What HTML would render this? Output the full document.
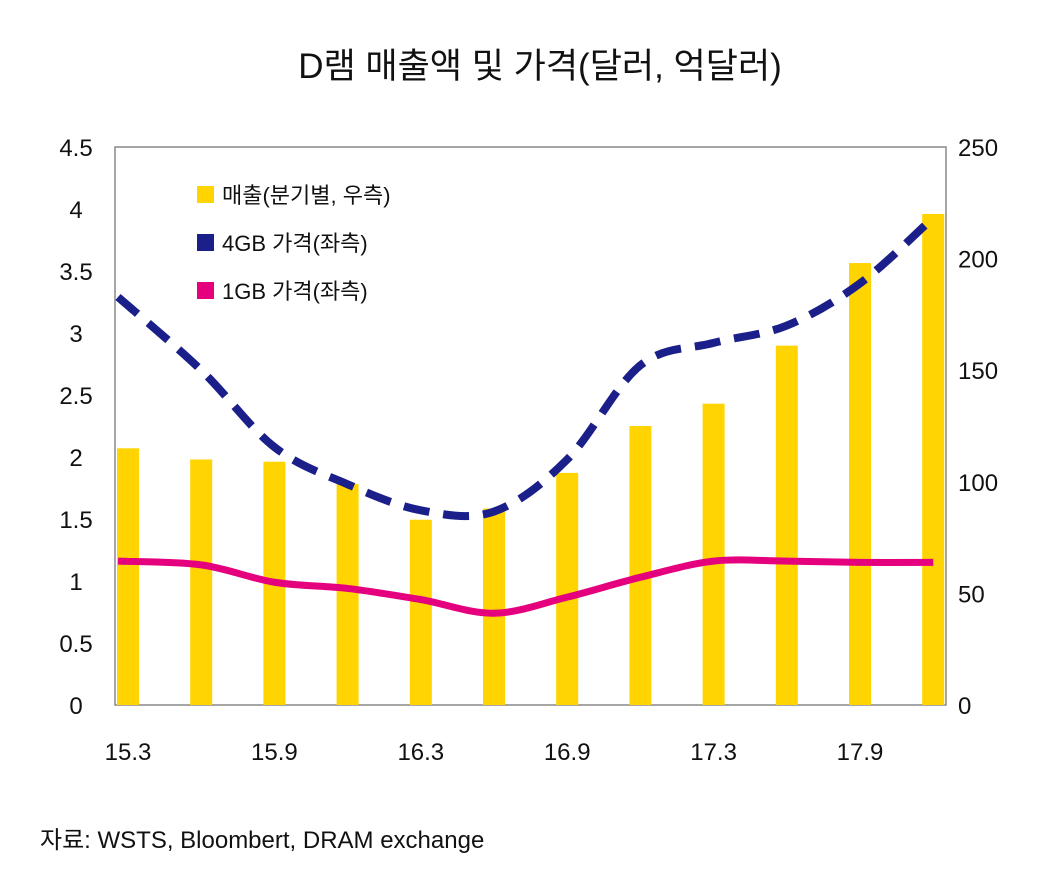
<!DOCTYPE html>
<html><head><meta charset="utf-8">
<style>
body{margin:0;background:#fff;width:1053px;height:891px;overflow:hidden;font-family:"Liberation Sans","Noto Sans CJK KR",sans-serif;}
svg text{font-family:"Liberation Sans","Noto Sans CJK KR",sans-serif;fill:#111;}
</style></head><body>
<svg id="chart" width="1053" height="891">
<text x="540" y="78" font-size="35" text-anchor="middle">D램 매출액 및 가격(달러, 억달러)</text>
<rect x="115" y="147" width="831" height="558" fill="none" stroke="#888" stroke-width="1.5"/>
<g id="bars"></g><g id="lines"></g><g id="axes"></g>
<g>
<rect x="197" y="186" width="17" height="17" fill="#FFD400"/>
<text x="222" y="203" font-size="22">매출(분기별, 우측)</text>
<rect x="197" y="234" width="17" height="17" fill="#1B1F8A"/>
<text x="222" y="251" font-size="22">4GB 가격(좌측)</text>
<rect x="197" y="282" width="17" height="17" fill="#E5007E"/>
<text x="222" y="299" font-size="22">1GB 가격(좌측)</text>
</g>
<text x="40" y="848" font-size="24">자료: WSTS, Bloombert, DRAM exchange</text>
</svg>
<script>
const revenue=[115,110,109,99,83,88,104,125,135,161,198,220];
const price4gb=[3.29,2.7,2.08,1.78,1.57,1.56,1.98,2.74,2.92,3.06,3.4,3.93];
const price1gb=[1.16,1.13,0.99,0.94,0.85,0.74,0.87,1.03,1.16,1.16,1.15,1.15];
const leftTicks=["0","0.5","1","1.5","2","2.5","3","3.5","4","4.5"];
const rightTicks=["0","50","100","150","200","250"];
const xLabels=["15.3","15.9","16.3","16.9","17.3","17.9"];
const NS="http://www.w3.org/2000/svg";
const top0=147,bot=705;
const yL=v=>bot-(v/4.5)*(bot-top0);
const yR=v=>bot-(v/250)*(bot-top0);
const xC=i=>128+i*73.2;
function mk(t,a,p){const e=document.createElementNS(NS,t);for(const k in a)e.setAttribute(k,a[k]);p.appendChild(e);return e;}
const bars=document.getElementById('bars'),lines=document.getElementById('lines'),axes=document.getElementById('axes');
revenue.forEach((v,i)=>{const r=mk('rect',{x:xC(i)-11,y:yR(v),width:22,height:bot-yR(v),fill:'#FFD400'},bars);

});
function smooth(vals,xf){const p=vals.map((v,i)=>[xf(i),yL(v)]);let d=`M${p[0][0]},${p[0][1]}`;
for(let i=0;i<p.length-1;i++){const p0=p[i-1]||p[i],p1=p[i],p2=p[i+1],p3=p[i+2]||p2;
d+=` C${p1[0]+(p2[0]-p0[0])/6},${p1[1]+(p2[1]-p0[1])/6} ${p2[0]-(p3[0]-p1[0])/6},${p2[1]-(p3[1]-p1[1])/6} ${p2[0]},${p2[1]}`;}return d;}
const xLine=i=>i==0?118:xC(i);
const l4=mk('path',{d:smooth(price4gb,xLine),fill:'none',stroke:'#1B1F8A','stroke-width':8,'stroke-dasharray':'26,14'},lines);


const l1=mk('path',{d:smooth(price1gb,xLine),fill:'none',stroke:'#E5007E','stroke-width':7},lines);


leftTicks.forEach((t,i)=>{const e=mk('text',{x:76,y:yL(+t)+9,'font-size':24,'text-anchor':'middle'},axes);e.textContent=t;

});
rightTicks.forEach(t=>{const e=mk('text',{x:958,y:yR(+t)+9,'font-size':24},axes);e.textContent=t;

});
xLabels.forEach((t,i)=>{const e=mk('text',{x:xC(i*2),y:760,'font-size':24,'text-anchor':'middle'},axes);e.textContent=t;

});
</script>
</body></html>
